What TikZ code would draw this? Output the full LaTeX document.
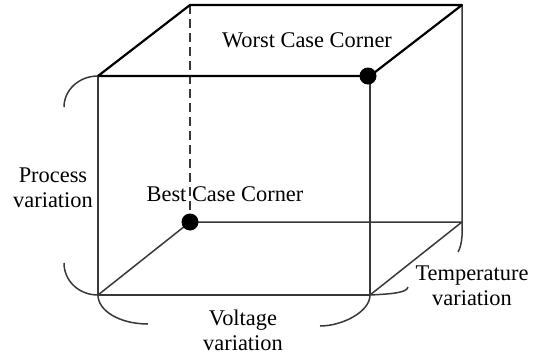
\documentclass[tikz,border=0pt]{standalone}
\usepackage{fontspec}
\setmainfont{Liberation Serif}
\usetikzlibrary{positioning}

\begin{document}
\begin{tikzpicture}[x=1pt,y=-1pt,
  edgetop/.style={line width=2.2pt,line join=round},
  edgeside/.style={line width=1.5pt,draw=black!78},
  bracket/.style={line width=1.5pt,draw=black!78},
  dot/.style={circle,fill=black,inner sep=0pt,minimum size=17pt},
  lbl/.style={font=\fontsize{22.4}{25}\selectfont,align=center,inner sep=0pt}]
  \useasboundingbox (0,0) rectangle (539,359);
  % corners of the cube
  \coordinate (ftl) at (98,76);
  \coordinate (ftr) at (370,76);
  \coordinate (fbl) at (98,295);
  \coordinate (fbr) at (370,295);
  \coordinate (btl) at (190,5);
  \coordinate (btr) at (462,5);
  \coordinate (bbl) at (190,222);
  \coordinate (bbr) at (462,222);
  % edges
  \draw[edgeside,line width=1.2pt,dash pattern=on 9pt off 5pt] (btl) -- (bbl);
  \draw[edgeside] (ftl) -- (fbl) -- (fbr) -- (ftr);
  \draw[edgeside] (btr) -- (bbr) -- (bbl) -- (fbl);
  \draw[edgeside] (bbr) -- (fbr);
  \draw[edgetop] (ftl) -- (ftr) -- (btr) -- (btl) -- cycle;
  \node[dot] (worst) at ([xshift=-2pt]ftr) {};
  \node[dot] (best) at (bbl) {};
  % brackets
  \draw[bracket] (ftl) .. controls (79,76) and (64,90) .. (64,107);
  \draw[bracket] (fbl) .. controls (79,295) and (64,281) .. (64,263);
  \draw[bracket] (fbl) .. controls (98,311) and (120,324) .. (148,324);
  \draw[bracket] (fbr) .. controls (370,312) and (342,326) .. (320,326);
  \draw[bracket] (bbr) .. controls (463,237) and (461,247) .. (458,252);
  \draw[bracket] (fbr) .. controls (390,294) and (407,293) .. (408,287);
  % labels (base = last line)
  \node[lbl,anchor=base] (worsttxt) at (307,47) {Worst Case Corner};
  \node[lbl,anchor=base] (besttxt) at (225,201) {Best Case Corner};
  \node[lbl,anchor=base] (process) at (53,207) {Process\\variation};
  \node[lbl,anchor=base] (voltage) at (243,350) {Voltage\\variation};
  \node[lbl,anchor=base] (temp) at (472,305) {Temperature\\variation};
\end{tikzpicture}
\end{document}
